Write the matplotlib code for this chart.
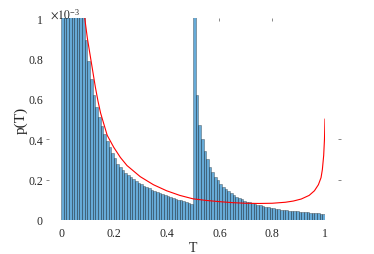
import numpy as np
import matplotlib
matplotlib.use("Agg")
import matplotlib.pyplot as plt
from matplotlib.ticker import FuncFormatter

plt.rcParams['font.family'] = ['Liberation Serif', 'DejaVu Serif']
plt.rcParams['mathtext.fontset'] = 'stix'

# Histogram: 100 bins over [0, 1]; heights in units of 1e-3
bin_edges = np.linspace(0.0, 1.0, 101)
hist_e3 = [
    9.0, 4.5, 3.0, 2.3, 1.85, 1.55, 1.32, 1.15, 1.01, 0.89,
    0.79, 0.70, 0.62, 0.56, 0.51, 0.465, 0.425, 0.39, 0.36, 0.33,
    0.305, 0.28, 0.262, 0.248, 0.235, 0.223, 0.212, 0.202, 0.193, 0.185,
    0.177, 0.170, 0.163, 0.157, 0.151, 0.146, 0.141, 0.136, 0.131, 0.126,
    0.121, 0.116, 0.111, 0.106, 0.101, 0.097, 0.093, 0.089, 0.085, 0.081,
    1.5, 0.62, 0.47, 0.40, 0.34, 0.30, 0.265, 0.238, 0.215, 0.196,
    0.180, 0.166, 0.154, 0.143, 0.133, 0.124, 0.116, 0.109, 0.102, 0.096,
    0.091, 0.087, 0.083, 0.079, 0.076, 0.072, 0.069, 0.066, 0.063, 0.061,
    0.058, 0.056, 0.054, 0.052, 0.050, 0.049, 0.047, 0.046, 0.044, 0.043,
    0.042, 0.040, 0.039, 0.038, 0.037, 0.036, 0.034, 0.033, 0.032, 0.030,
]

# Theoretical curve (units of 1e-3)
curve_T = [0.07, 0.08, 0.09, 0.10, 0.11, 0.12, 0.13, 0.14, 0.15, 0.175,
           0.20, 0.225, 0.25, 0.30, 0.35, 0.40, 0.45, 0.50, 0.55, 0.60,
           0.65, 0.70, 0.75, 0.80, 0.85, 0.88, 0.91, 0.94, 0.96, 0.975,
           0.985, 0.99, 0.995, 0.998, 1.0]
curve_p_e3 = [1.45, 1.2, 1.0, 0.90, 0.82, 0.74, 0.66, 0.59, 0.53, 0.42,
              0.36, 0.31, 0.27, 0.215, 0.175, 0.145, 0.122, 0.105, 0.097, 0.091,
              0.086, 0.083, 0.082, 0.083, 0.088, 0.094, 0.104, 0.122, 0.145, 0.175,
              0.21, 0.25, 0.32, 0.40, 0.50]

xticks = [0, 0.2, 0.4, 0.6, 0.8, 1.0]
yticks = [0, 0.2, 0.4, 0.6, 0.8, 1.0]

fig = plt.figure(figsize=(3.74, 2.55), dpi=100)
ax = fig.add_axes([61/374, 34/255, 264/374, (221-19.3)/255])

widths = np.diff(bin_edges)
ax.bar(bin_edges[:-1], hist_e3, width=widths, align='edge',
       facecolor=(0.0, 0.447, 0.741, 0.6), edgecolor=(0, 0, 0, 0.5),
       linewidth=0.4)
ax.plot(curve_T, curve_p_e3, color='red', linewidth=0.8)

ax.set_xlim(0, 1)
ax.set_ylim(0, 1)
for s in ax.spines.values():
    s.set_visible(False)
ax.spines['left'].set_position(('outward', 9))
ax.spines['right'].set_position(('outward', 9))

fmt = FuncFormatter(lambda v, p: ('%g' % round(v, 3)))
ax.set_xticks(xticks)
ax.set_yticks(yticks)
ax.xaxis.set_major_formatter(fmt)
ax.yaxis.set_major_formatter(fmt)
ax.tick_params(axis='both', which='major', length=0, labelsize=8.5,
               colors='#262626')
ax.tick_params(axis='x', which='major', pad=5)
ax.tick_params(axis='y', which='major', pad=4)

# faint stray ticks as in the reference
ax.xaxis.remove_overlapping_locs = False
ax.yaxis.remove_overlapping_locs = False
ax.set_yticks([0.2, 0.4], minor=True)
ax.set_xticks([0.6, 0.8], minor=True)
ax.tick_params(axis='y', which='minor', left=True, right=True, length=2.2,
               width=0.7, color='#888888', direction='out')
ax.tick_params(axis='x', which='minor', top=True, bottom=False, length=2.2,
               width=0.7, color='#888888', direction='in')

ax.set_xlabel('T', fontsize=10, color='#262626', labelpad=1.5)
ax.set_ylabel('p(T)', fontsize=11, color='#262626', labelpad=0.5)
ax.text(-0.042, 1.0, r'$\times10^{\mathregular{-3}}$', transform=ax.transAxes,
        fontsize=8.5, color='#262626', va='baseline', ha='left')

fig.savefig('out.png', dpi=100)
